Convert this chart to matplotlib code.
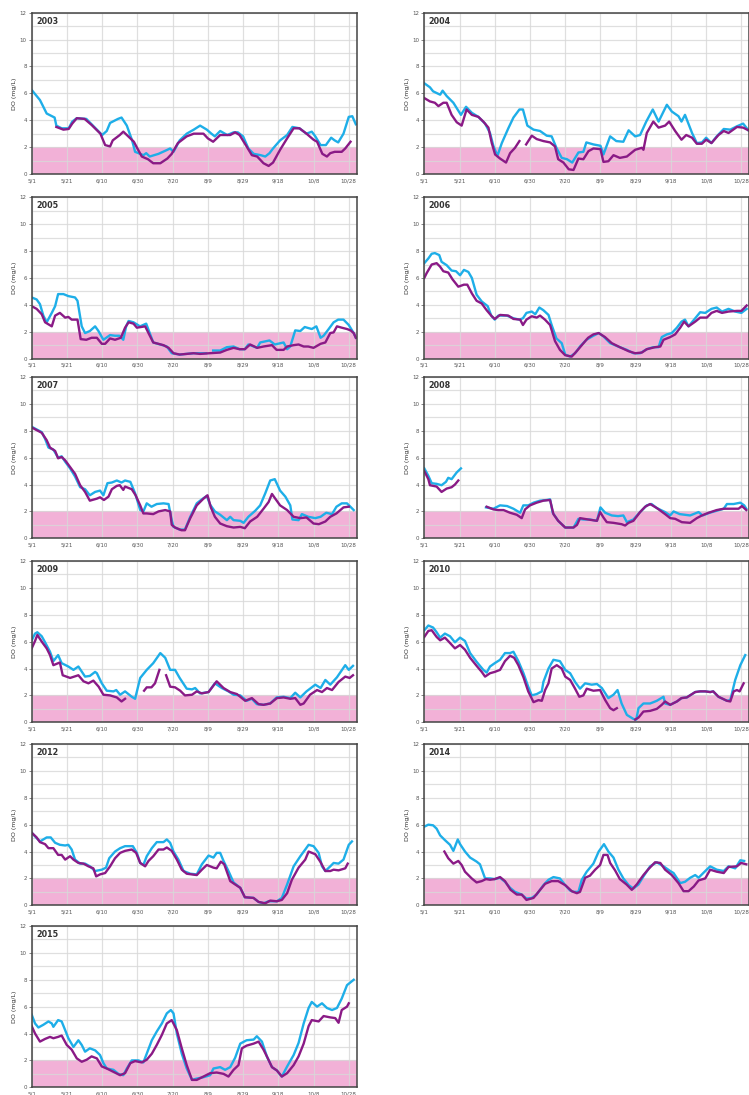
import numpy as np
import matplotlib.pyplot as plt

nan = np.nan

tick_days = [0, 20, 40, 60, 80, 100, 120, 140, 160, 180]
tick_labels = ['5/1', '5/21', '6/10', '6/30', '7/20', '8/9', '8/29', '9/18', '10/8', '10/28']
years = ['2003', '2004', '2005', '2006', '2007', '2008', '2009', '2010', '2012', '2014', '2015']

# days since 5/1 and dissolved oxygen (mg/L); "a" = cyan series, "b" = purple series
day_2003_a = [0, 4.7, 8.5, 13, 14, 17, 21, 23, 25.6, 31, 37, 40, 42.6, 44.5, 49, 51, 54, 57, 58.7, 63.4, 65, 67, 72, 77, 78.6, 80.5, 84, 88, 92, 95.6, 99.4, 102, 104, 107, 111, 114.6, 117, 120, 123, 126, 130, 132.6, 135, 137, 141, 145, 148, 152, 156, 159, 161, 164, 167, 170, 172, 174, 177, 180, 182, 184]
do_2003_a = [6.25, 5.5, 4.5, 4.2, 3.6, 3.4, 3.4, 3.9, 4.15, 4.1, 3.3, 2.9, 3.2, 3.8, 4.1, 4.2, 3.6, 2.5, 1.65, 1.4, 1.55, 1.3, 1.5, 1.8, 1.9, 1.65, 2.5, 3.0, 3.3, 3.6, 3.3, 3.0, 2.8, 3.2, 2.9, 3.1, 3.1, 2.8, 1.9, 1.5, 1.4, 1.3, 1.55, 1.9, 2.5, 2.9, 3.5, 3.4, 3.0, 3.15, 2.8, 2.15, 2.15, 2.7, 2.5, 2.35, 3.0, 4.25, 4.3, 3.7]
day_2003_b = [14, 18, 21, 23, 25.6, 30, 34, 39, 41.7, 44.5, 46, 50, 52, 54, 58, 60, 62.5, 66, 69, 73, 77, 79.5, 83, 88, 92, 97.5, 100, 103, 107, 112.7, 115.5, 118, 122, 125, 128, 131.6, 134.5, 137, 141, 145, 148.7, 152, 156, 160, 162, 165, 167.6, 169.5, 172, 176, 178, 181]
do_2003_b = [3.5, 3.3, 3.35, 3.75, 4.15, 4.1, 3.65, 3.0, 2.15, 2.05, 2.5, 2.9, 3.15, 2.9, 2.4, 1.9, 1.3, 1.1, 0.8, 0.8, 1.15, 1.5, 2.3, 2.8, 3.0, 3.0, 2.65, 2.4, 2.9, 2.9, 3.1, 2.9, 2.05, 1.4, 1.3, 0.8, 0.6, 0.85, 1.8, 2.65, 3.4, 3.4, 3.0, 2.55, 2.4, 1.5, 1.3, 1.55, 1.65, 1.65, 1.9, 2.4]

day_2004_a = [0, 3.2, 5, 9, 10.4, 12.7, 16.5, 20.8, 23.7, 27, 30.7, 34.5, 37.3, 39.2, 41.5, 44, 47.7, 50.6, 54, 56, 58.5, 62, 65.7, 69.5, 72.3, 75, 78, 81, 84, 87.5, 90.3, 92, 96, 100, 101.7, 105.5, 109, 113, 116, 119.7, 122.5, 126, 129.7, 133, 137.7, 140.5, 144.3, 146, 148, 152, 154.7, 157.6, 160, 163, 166, 170, 173.7, 177.5, 181, 184]
do_2004_a = [6.75, 6.45, 6.15, 5.9, 6.2, 5.8, 5.3, 4.4, 5.0, 4.55, 4.25, 3.75, 3.05, 2.1, 1.35, 2.3, 3.4, 4.2, 4.8, 4.8, 3.6, 3.3, 3.2, 2.85, 2.8, 1.95, 1.2, 1.1, 0.85, 1.6, 1.65, 2.35, 2.2, 2.1, 1.45, 2.8, 2.45, 2.4, 3.25, 2.8, 2.9, 3.9, 4.8, 3.9, 5.15, 4.65, 4.3, 3.9, 4.4, 3.05, 2.3, 2.35, 2.7, 2.3, 2.8, 3.35, 3.3, 3.55, 3.75, 3.25]
day_2004_b = [0, 3.2, 6, 8, 10.8, 12.7, 15.5, 18.4, 21.2, 24, 27, 30.7, 33.5, 36.4, 38.3, 40.2, 43, 46.4, 48.7, 51.5, 54, 56, 57.8, 61, 63.8, 67.6, 71.4, 74.2, 76, 79, 82, 84.7, 87.5, 90.3, 93.2, 96, 100, 101.7, 104.5, 107.4, 111, 115, 119.7, 123.5, 124.4, 126.3, 130, 133, 136.7, 139, 142.4, 146, 148.7, 152, 154.7, 157.6, 160, 163, 167, 170, 172.7, 177.5, 181, 184]
do_2004_b = [5.65, 5.4, 5.3, 5.05, 5.3, 5.3, 4.4, 3.85, 3.6, 4.8, 4.4, 4.25, 3.9, 3.45, 2.3, 1.45, 1.15, 0.85, 1.55, 1.95, 2.45, nan, 2.2, 2.85, 2.6, 2.45, 2.35, 2.05, 1.1, 0.85, 0.35, 0.3, 1.15, 1.1, 1.7, 1.9, 1.85, 0.9, 0.95, 1.4, 1.2, 1.3, 1.8, 1.95, 1.8, 3.05, 3.9, 3.45, 3.6, 3.9, 3.2, 2.55, 2.9, 2.7, 2.25, 2.25, 2.55, 2.3, 2.9, 3.2, 3.05, 3.5, 3.45, 3.25]

day_2005_a = [0, 2.8, 4.7, 6.6, 8.5, 11.4, 13.3, 15, 18, 20.8, 24.6, 26, 28.4, 30.3, 33, 36, 37.9, 40.7, 44.5, 47.3, 49.8, 52, 53.6, 55, 57.8, 61.5, 65, 69, 73, 76.7, 79.5, 84, 91.9, 99, 101, 103, 107, 110.8, 114.6, 118, 121, 123, 128, 129.7, 135, 138, 143, 145, 146.8, 149.6, 152.5, 155, 159, 161.6, 164, 165.7, 168.6, 171.4, 174, 177, 180, 182.8, 184]
do_2005_a = [4.55, 4.4, 4.05, 3.2, 2.7, 3.4, 3.9, 4.8, 4.8, 4.65, 4.55, 4.3, 2.4, 1.9, 2.05, 2.4, 2.05, 1.4, 1.75, 1.7, 1.7, 1.4, 2.4, 2.8, 2.7, 2.4, 2.6, 1.2, 1.05, 0.9, 0.4, 0.3, 0.4, 0.4, nan, 0.6, 0.6, 0.85, 0.9, 0.7, 0.7, 1.05, 0.8, 1.2, 1.35, 1.05, 1.2, 0.7, 0.9, 2.1, 2.05, 2.35, 2.2, 2.4, 1.55, 1.7, 2.2, 2.7, 2.9, 2.9, 2.5, 1.9, 1.55]
day_2005_b = [0, 2.8, 5.7, 7.6, 11.4, 13.3, 16, 19, 20.8, 22.7, 26, 27.8, 31, 34, 37, 39.8, 41.7, 44.5, 47.3, 50.6, 53, 55, 57.8, 59.7, 64.4, 66.3, 69, 74.8, 77.7, 80.5, 84, 91.9, 95.6, 101, 107, 110.8, 114.6, 118, 121, 124, 128, 131.6, 136.4, 139, 143, 145, 148.7, 151.5, 154.4, 157, 160, 164, 166.7, 169.5, 171.4, 173.3, 176, 179, 181, 182.8, 184]
do_2005_b = [3.9, 3.7, 3.3, 2.7, 2.4, 3.2, 3.4, 3.05, 3.1, 2.9, 2.9, 1.45, 1.4, 1.55, 1.55, 1.1, 1.1, 1.5, 1.4, 1.55, 2.3, 2.7, 2.6, 2.3, 2.4, 1.9, 1.2, 1.0, 0.8, 0.4, 0.3, 0.4, 0.35, 0.4, 0.45, 0.65, 0.8, 0.7, 0.7, 1.05, 0.8, 0.9, 1.0, 0.65, 0.65, 0.9, 1.0, 1.05, 0.9, 0.9, 0.8, 1.1, 1.2, 1.9, 1.95, 2.4, 2.3, 2.2, 2.1, 1.9, 1.55]

day_2006_a = [0, 2.3, 4.2, 6, 8.5, 9.8, 12.7, 15.5, 18, 20.3, 22.5, 25, 27, 29.7, 32.6, 36, 38, 40, 42, 46.8, 50.6, 54, 56, 58, 61, 63, 65.3, 67.6, 70.5, 72.3, 75, 78, 80, 82.8, 85.6, 88.4, 92, 96, 99, 101.7, 105.5, 110, 115, 118.7, 122.5, 126.3, 130, 133, 134.8, 137.7, 140.5, 143.4, 146, 148, 150, 153.8, 156.6, 159.5, 163, 166, 169, 172.7, 176.5, 180, 183]
do_2006_a = [7.1, 7.45, 7.8, 7.85, 7.7, 7.2, 6.95, 6.55, 6.5, 6.2, 6.6, 6.45, 6.0, 4.75, 4.25, 3.9, 3.2, 2.9, 3.2, 3.2, 3.0, 2.9, 3.0, 3.4, 3.5, 3.3, 3.8, 3.6, 3.25, 2.5, 1.5, 1.15, 0.3, 0.15, 0.4, 0.9, 1.4, 1.7, 1.9, 1.65, 1.15, 0.9, 0.65, 0.4, 0.4, 0.7, 0.85, 0.85, 1.6, 1.8, 1.9, 2.3, 2.75, 2.9, 2.4, 3.0, 3.45, 3.4, 3.7, 3.8, 3.5, 3.7, 3.5, 3.4, 3.7]
day_2006_b = [0, 1.3, 4.2, 7, 8.9, 10.8, 13.6, 16, 19.3, 22.5, 24.4, 27, 29.7, 32.6, 35.4, 38.3, 40, 43, 47.7, 50.6, 54.4, 56, 58, 61, 63.8, 65.7, 68.5, 71.4, 74.2, 77, 80, 83.7, 86.5, 89.4, 93, 96, 99, 102.6, 106.4, 111, 116, 119.7, 123.5, 126.3, 131, 134, 135.8, 139.6, 142.4, 145.3, 147.5, 150, 153.8, 156.6, 160.4, 163, 166, 169, 172.7, 177.5, 180, 183]
do_2006_b = [6.0, 6.35, 7.0, 7.1, 6.85, 6.5, 6.4, 5.9, 5.35, 5.5, 5.5, 4.85, 4.3, 4.1, 3.6, 3.15, 2.95, 3.25, 3.2, 2.95, 2.9, 2.5, 2.9, 3.15, 3.05, 3.2, 2.9, 2.5, 1.3, 0.65, 0.25, 0.15, 0.55, 1.0, 1.55, 1.8, 1.9, 1.6, 1.15, 0.85, 0.55, 0.4, 0.45, 0.7, 0.85, 0.9, 1.4, 1.6, 1.8, 2.3, 2.75, 2.4, 2.75, 3.05, 3.05, 3.4, 3.55, 3.4, 3.5, 3.55, 3.55, 3.95]

day_2007_a = [0, 2.8, 5.7, 7.6, 9.5, 12.3, 15, 17, 19, 21.8, 24.6, 27.5, 30.3, 33, 36, 38.8, 40.7, 43, 45.5, 48.3, 51, 53, 56, 58.7, 61.6, 63.4, 65.3, 68, 71, 74.8, 77.7, 79.5, 80.5, 84, 87, 90, 93.7, 96.6, 99.4, 101.3, 104, 107, 110.8, 112.7, 114.6, 118.4, 120.3, 123, 126.9, 129.7, 132.6, 135.4, 138, 141, 144, 146.8, 148, 151.5, 153.4, 157, 161, 164, 167.2, 170.5, 173, 176, 179, 182.8]
do_2007_a = [8.3, 8.1, 7.9, 7.4, 6.75, 6.6, 6.0, 6.1, 5.7, 5.2, 4.6, 3.8, 3.65, 3.2, 3.45, 3.55, 3.2, 4.1, 4.15, 4.3, 4.15, 4.3, 4.2, 3.35, 2.1, 2.0, 2.6, 2.35, 2.55, 2.6, 2.55, 1.35, 0.85, 0.65, 0.65, 1.6, 2.6, 2.9, 3.15, 2.5, 2.0, 1.75, 1.35, 1.6, 1.35, 1.3, 1.15, 1.6, 2.05, 2.45, 3.35, 4.3, 4.4, 3.55, 3.1, 2.45, 1.4, 1.35, 1.8, 1.6, 1.5, 1.6, 1.9, 1.8, 2.35, 2.6, 2.6, 2.1]
day_2007_b = [0, 2.8, 5.7, 8.5, 10.4, 13.3, 15, 17, 19, 21.8, 24.6, 27.5, 30.3, 33, 37, 38.8, 41, 43.6, 45.5, 48.3, 50, 52, 53, 56.8, 59, 61.6, 63.4, 65.3, 69, 72, 75.8, 78.6, 79.5, 81.4, 85, 87, 90, 93.7, 97.5, 99.8, 101.7, 104, 107, 110.8, 112.7, 114.6, 118.4, 121, 124, 128, 131.6, 134.5, 136.4, 138, 141, 145, 148.7, 152.5, 156, 160, 163, 166.7, 169.5, 173, 177, 180]
do_2007_b = [8.25, 8.05, 7.85, 7.3, 6.75, 6.5, 5.95, 6.05, 5.8, 5.3, 4.8, 3.95, 3.45, 2.8, 2.95, 3.05, 2.85, 3.1, 3.65, 3.9, 3.95, 3.6, 3.85, 3.65, 3.2, 2.45, 1.85, 1.85, 1.8, 2.0, 2.1, 2.0, 1.0, 0.8, 0.6, 0.6, 1.5, 2.45, 2.95, 3.2, 2.3, 1.6, 1.1, 0.9, 0.85, 0.8, 0.85, 0.75, 1.25, 1.6, 2.2, 2.7, 3.3, 3.0, 2.45, 2.1, 1.6, 1.5, 1.55, 1.1, 1.05, 1.25, 1.6, 1.85, 2.3, 2.35]

day_2008_a = [0, 2.3, 4.2, 7, 9.8, 12.3, 13.6, 15.5, 18.4, 20.8, 28, 35, 39.2, 43, 47, 50.6, 54.4, 56.2, 59, 62, 65.7, 69.5, 71.4, 72.9, 76, 80, 84.7, 87.5, 90.3, 94, 98, 100, 102.7, 106.4, 110, 113, 115, 118.7, 122.5, 126.3, 129, 132, 136.7, 139.6, 141.5, 145, 150.9, 155.7, 158, 162, 166, 170, 171.8, 175.6, 179.4, 181.6, 182.8]
do_2008_a = [5.2, 4.65, 4.1, 4.05, 3.95, 4.2, 4.5, 4.4, 4.9, 5.2, nan, 2.3, 2.2, 2.45, 2.4, 2.2, 1.9, 2.45, 2.45, 2.65, 2.8, 2.85, 2.9, 1.9, 1.3, 0.8, 0.8, 1.45, 1.4, 1.4, 1.3, 2.3, 1.9, 1.7, 1.65, 1.7, 1.2, 1.4, 1.95, 2.45, 2.55, 2.25, 1.95, 1.7, 2.0, 1.8, 1.7, 1.95, 1.7, 1.9, 2.05, 2.2, 2.55, 2.55, 2.65, 2.45, 2.2]
day_2008_b = [0, 2.3, 3.2, 7, 9.8, 12.7, 15.5, 17.4, 19.3, 28, 35.4, 39.2, 42, 45, 48.7, 52.5, 55.3, 57.2, 60, 63.8, 67.6, 71.4, 73.3, 76, 80, 84.7, 86.7, 88.4, 93, 98, 99.8, 101.7, 103.6, 107.4, 112, 114, 115.9, 118.7, 122.5, 125.4, 128.2, 132, 136.7, 139.6, 142.4, 146.2, 150.9, 154.7, 157.6, 161.4, 166, 170, 174.6, 178.4, 180.3, 182.8]
do_2008_b = [5.0, 4.4, 3.95, 3.85, 3.45, 3.7, 3.8, 4.0, 4.3, nan, 2.35, 2.15, 2.1, 2.1, 1.9, 1.75, 1.5, 2.15, 2.45, 2.65, 2.8, 2.85, 1.8, 1.3, 0.8, 0.8, 1.0, 1.5, 1.4, 1.3, 1.95, 1.55, 1.2, 1.15, 1.05, 0.95, 1.15, 1.3, 1.95, 2.35, 2.55, 2.25, 1.8, 1.5, 1.45, 1.2, 1.15, 1.5, 1.7, 1.9, 2.1, 2.2, 2.2, 2.2, 2.4, 2.1]

day_2009_a = [0, 1.9, 3.2, 5.7, 7.6, 10.4, 12.3, 15, 17, 20.8, 23.7, 26.5, 30.3, 33, 36, 37, 39.8, 42.6, 46.4, 48, 50.2, 53, 56.8, 58.7, 61.6, 65.3, 69, 73, 75.8, 78.6, 81.4, 84, 88, 91, 92.8, 95.6, 100.4, 104, 107.9, 111.7, 114.6, 118.4, 122, 125, 127.8, 131.6, 135.4, 139, 143, 146.8, 149.6, 152.5, 156, 161, 164, 166.7, 169.5, 173.3, 178, 180, 182.4]
do_2009_a = [6.1, 6.6, 6.7, 6.4, 5.95, 5.25, 4.55, 5.0, 4.4, 4.15, 3.9, 4.15, 3.4, 3.45, 3.75, 3.65, 2.9, 2.35, 2.3, 2.4, 2.05, 2.3, 1.9, 1.75, 3.3, 3.9, 4.4, 5.15, 4.8, 3.9, 3.9, 3.3, 2.5, 2.45, 2.55, 2.15, 2.25, 2.9, 2.55, 2.3, 2.05, 2.0, 1.6, 1.75, 1.35, 1.3, 1.4, 1.85, 1.9, 1.8, 2.2, 1.85, 2.3, 2.8, 2.55, 3.15, 2.8, 3.35, 4.25, 3.9, 4.2]
day_2009_b = [0, 1.9, 3.2, 5.7, 8.5, 10.4, 12.3, 16, 17.6, 21.8, 26.5, 29.4, 32.2, 35, 38, 40.7, 44.5, 48.3, 51, 53, 58, 63.8, 65.3, 68, 70, 72.5, 74, 76.3, 78.6, 81.4, 84.3, 87, 91, 93.7, 96.6, 100.4, 105, 108.9, 112.7, 116.5, 121.2, 125, 128.8, 131.6, 135.4, 139.2, 143, 146.8, 149.6, 152.5, 154.4, 158, 162, 164.8, 167.6, 170.5, 174.2, 178, 180.5, 182.4]
do_2009_b = [5.5, 6.05, 6.5, 6.0, 5.5, 5.0, 4.25, 4.45, 3.5, 3.3, 3.5, 3.05, 2.9, 3.1, 2.65, 2.05, 2.0, 1.85, 1.55, 1.75, nan, 2.35, 2.6, 2.6, 2.9, 3.9, nan, 3.5, 2.65, 2.6, 2.35, 2.0, 2.05, 2.3, 2.15, 2.25, 3.05, 2.55, 2.25, 2.1, 1.6, 1.8, 1.35, 1.3, 1.4, 1.8, 1.85, 1.75, 1.8, 1.3, 1.4, 2.05, 2.4, 2.25, 2.55, 2.4, 3.0, 3.4, 3.3, 3.5]

day_2010_a = [0, 2.3, 5, 7, 9, 11.7, 14.6, 17.4, 20.3, 23.1, 26, 29.7, 33.5, 35.4, 37.3, 40, 43, 45.8, 48.7, 50.6, 53.4, 56.3, 59, 61, 63.8, 66.7, 67.6, 70.5, 73.3, 77, 80, 82.8, 85.6, 88.4, 91.3, 95, 98, 100.8, 104.5, 107.4, 109.7, 112, 115, 118.7, 120.3, 121.6, 124.4, 128.2, 132, 135.8, 136.7, 139.6, 143.4, 146, 149, 153.8, 156.6, 159.5, 162.3, 164, 167, 171.8, 173.7, 176.5, 179.4, 182.2]
do_2010_a = [6.85, 7.2, 7.05, 6.7, 6.3, 6.6, 6.4, 5.95, 6.3, 6.05, 5.15, 4.5, 3.9, 3.7, 4.15, 4.4, 4.65, 5.15, 5.15, 5.25, 4.55, 3.65, 2.65, 2.0, 2.1, 2.3, 3.0, 4.0, 4.65, 4.55, 3.9, 3.65, 3.0, 2.5, 2.9, 2.8, 2.85, 2.55, 1.8, 2.05, 2.4, 1.4, 0.55, 0.25, 0.2, 1.05, 1.4, 1.4, 1.6, 1.9, 1.4, 1.3, 1.55, 1.8, 1.85, 2.25, 2.3, 2.3, 2.25, 2.3, 1.9, 1.6, 1.65, 3.15, 4.25, 5.0]
day_2010_b = [0, 2.3, 4.2, 7, 9, 11.7, 14.6, 17.4, 20.3, 23.1, 26, 29.7, 32.6, 34.5, 37.3, 40, 43, 45.8, 48.7, 51, 53.4, 56.3, 59, 62, 64.8, 66.7, 68.6, 70.5, 72.3, 75.2, 78, 80, 82.8, 85.6, 88, 90.3, 92.2, 96, 99.8, 102.7, 105.5, 107.4, 109.3, 115, 119.7, 121.6, 124.4, 128.2, 132, 134.8, 136.7, 139.6, 143.4, 146, 149, 153.8, 156.6, 159.5, 162.3, 164, 167, 171.8, 173.7, 175.6, 177.5, 179, 181.3]
do_2010_b = [6.35, 6.8, 6.85, 6.35, 6.1, 6.3, 5.9, 5.5, 5.75, 5.4, 4.8, 4.2, 3.75, 3.4, 3.65, 3.75, 3.9, 4.55, 4.95, 4.8, 4.25, 3.35, 2.3, 1.5, 1.65, 1.6, 2.4, 2.9, 4.0, 4.25, 4.0, 3.4, 3.15, 2.5, 1.9, 2.0, 2.5, 2.35, 2.4, 1.65, 1.05, 0.9, 1.05, nan, 0.2, 0.35, 0.8, 0.85, 1.0, 1.3, 1.55, 1.3, 1.55, 1.8, 1.85, 2.25, 2.3, 2.3, 2.25, 2.3, 1.9, 1.6, 1.55, 2.3, 2.4, 2.3, 2.9]

day_2012_a = [0, 2.8, 4.7, 6.6, 8.5, 10.8, 13.3, 16, 19, 20.8, 22.7, 24.6, 27.5, 30.3, 33, 36, 37.9, 39.8, 42.2, 44, 47.3, 50.2, 53, 57.4, 59.7, 61.6, 63.4, 65.3, 68.2, 71, 74.8, 76.7, 78.6, 80.5, 83.3, 86.2, 90, 93.7, 96.6, 100.4, 103.2, 105, 107, 108.9, 111.7, 114.6, 118.4, 121, 125.9, 128.8, 131.6, 134.5, 139.2, 142, 145, 148.7, 152.5, 155.3, 157.2, 160, 162.9, 164.8, 166.7, 169.5, 171.4, 174.2, 177, 180, 181.8]
do_2012_a = [5.4, 5.0, 4.75, 4.9, 5.05, 5.05, 4.65, 4.5, 4.45, 4.5, 4.15, 3.4, 3.1, 3.1, 2.9, 2.55, 2.6, 2.65, 2.8, 3.5, 4.0, 4.25, 4.4, 4.4, 3.9, 3.15, 3.0, 3.65, 4.25, 4.7, 4.7, 4.9, 4.65, 4.0, 3.4, 2.55, 2.35, 2.3, 3.05, 3.7, 3.55, 3.9, 3.9, 3.3, 2.55, 1.7, 1.3, 0.6, 0.55, 0.25, 0.15, 0.3, 0.3, 0.55, 1.55, 2.9, 3.65, 4.15, 4.5, 4.4, 3.9, 2.9, 2.55, 2.9, 3.15, 3.1, 3.4, 4.5, 4.75]
day_2012_b = [0, 2.8, 4.7, 7.6, 9.5, 12.3, 15, 17, 19, 21.8, 23.7, 26.5, 29.4, 32.2, 35, 36.6, 38.8, 41.7, 44.5, 47.3, 50.2, 53, 56.8, 59.3, 61.6, 64.4, 66.3, 69, 72, 74.8, 76.7, 79.5, 82.4, 85.2, 88, 93.7, 96.6, 99.4, 103.2, 105, 107.4, 109.3, 112.7, 115.5, 118.4, 121, 125.9, 128.8, 132.6, 135.4, 139.2, 142, 145, 147.7, 151.5, 155.3, 157.2, 161, 163.8, 166.7, 169.5, 171.4, 174.2, 178, 179.4]
do_2012_b = [5.4, 5.05, 4.7, 4.55, 4.25, 4.25, 3.75, 3.75, 3.4, 3.65, 3.4, 3.15, 3.1, 2.9, 2.75, 2.15, 2.3, 2.4, 2.9, 3.5, 3.9, 4.05, 4.15, 3.9, 3.15, 2.9, 3.3, 3.65, 4.15, 4.15, 4.3, 4.05, 3.4, 2.65, 2.35, 2.25, 2.65, 3.0, 2.8, 2.75, 3.25, 3.05, 1.8, 1.55, 1.3, 0.6, 0.55, 0.25, 0.15, 0.35, 0.3, 0.4, 0.9, 1.9, 2.8, 3.4, 4.0, 3.8, 3.25, 2.55, 2.55, 2.65, 2.6, 2.75, 3.1]

day_2014_a = [0, 2.3, 5, 7, 9, 11.7, 14.6, 16.5, 19, 20.3, 23.1, 26, 29.7, 31.6, 34.5, 37.3, 40, 43, 45.8, 48.7, 51.5, 55.3, 58, 61, 63.8, 67.6, 70.5, 73.3, 77, 80, 82.8, 84.7, 87.5, 89.4, 92.2, 96, 99, 102, 104.5, 107.4, 110.2, 113, 116, 118.7, 121.6, 124.4, 128.2, 132, 135.8, 139.6, 141.5, 145.3, 148, 151, 153.8, 155.7, 159.5, 162.3, 166, 170, 172.7, 176.5, 179.4, 181.6]
do_2014_a = [5.85, 6.0, 5.95, 5.7, 5.2, 4.85, 4.5, 4.05, 4.9, 4.55, 4.0, 3.55, 3.25, 3.05, 2.0, 2.0, 1.95, 2.05, 1.75, 1.3, 1.0, 0.8, 0.5, 0.55, 0.8, 1.5, 1.9, 2.1, 2.0, 1.5, 1.1, 1.0, 1.0, 1.9, 2.5, 3.1, 4.0, 4.55, 4.0, 3.55, 2.65, 2.0, 1.5, 1.25, 1.55, 2.15, 2.9, 3.2, 2.9, 2.55, 2.4, 1.65, 1.75, 2.05, 2.25, 2.05, 2.55, 2.9, 2.65, 2.55, 2.9, 2.75, 3.35, 3.3]
day_2014_b = [11.4, 13.6, 16.5, 19.3, 21.2, 23.1, 26.9, 29.7, 32.6, 35, 37.3, 40, 43, 45.8, 49, 52.5, 55.3, 58, 62, 64.8, 68.6, 72.3, 76, 80, 83.7, 86.6, 88.4, 91.3, 94, 97, 99.8, 101.7, 104, 105.5, 108.3, 111, 114.8, 117.8, 120.6, 124.4, 127.3, 131, 134, 136.7, 140.5, 144.3, 147.2, 150, 153, 155.7, 159.5, 162.3, 166, 170, 172.7, 177.5, 179.8, 182.8]
do_2014_b = [4.0, 3.5, 3.1, 3.3, 3.0, 2.5, 2.0, 1.7, 1.8, 1.95, 1.9, 1.95, 2.1, 1.8, 1.15, 0.8, 0.8, 0.4, 0.55, 1.0, 1.6, 1.8, 1.8, 1.5, 1.05, 0.9, 1.0, 2.05, 2.2, 2.65, 3.0, 3.75, 3.75, 3.15, 2.6, 1.95, 1.55, 1.15, 1.55, 2.25, 2.7, 3.2, 3.15, 2.65, 2.25, 1.65, 1.05, 1.05, 1.4, 1.85, 2.0, 2.65, 2.5, 2.4, 2.85, 2.9, 3.15, 3.05]

day_2015_a = [0, 1.9, 3.8, 6.6, 9.5, 11.4, 12.3, 15, 17, 19, 20.8, 23.7, 26.5, 28.4, 30.3, 33, 36, 38.8, 40.7, 42.6, 46.4, 49.2, 52, 54, 56.8, 60.6, 63.4, 65.3, 68.2, 71, 73.9, 76.7, 79, 80.5, 82.4, 85.2, 88, 91, 93.7, 97.5, 101.3, 103.2, 107, 109.8, 112.7, 115.5, 118.4, 122, 126, 127.8, 130.7, 133.5, 136.4, 139.2, 142, 145, 148.7, 151.5, 154.4, 157.2, 159, 162, 164.8, 167.6, 170.5, 173.3, 176, 179, 182.8]
do_2015_a = [5.4, 4.75, 4.45, 4.65, 4.9, 4.75, 4.5, 5.0, 4.9, 4.25, 3.65, 3.0, 3.5, 3.15, 2.65, 2.9, 2.75, 2.4, 1.8, 1.4, 1.3, 1.0, 0.9, 1.4, 2.0, 2.0, 1.85, 2.5, 3.5, 4.15, 4.75, 5.5, 5.75, 5.5, 4.0, 2.5, 1.4, 0.55, 0.65, 0.75, 0.9, 1.4, 1.5, 1.3, 1.5, 2.2, 3.25, 3.5, 3.55, 3.8, 3.4, 2.3, 1.5, 1.25, 0.8, 1.55, 2.4, 3.3, 4.75, 5.9, 6.35, 6.0, 6.25, 5.9, 5.75, 5.9, 6.6, 7.6, 8.0]
day_2015_b = [0, 1.9, 4.7, 7.6, 10.4, 12.3, 15, 17, 19.9, 22.7, 25.6, 28.4, 31.2, 34, 37, 39.8, 42.6, 46.4, 50.2, 53, 56, 58.7, 62.5, 65.3, 68.2, 71, 73.9, 76.7, 79.5, 82.4, 85.2, 88, 91, 93.7, 97.5, 101.3, 105, 108.9, 111.7, 114.6, 117.4, 119.3, 122, 126, 128.8, 131.6, 133.5, 136.4, 139.2, 142, 145, 148.7, 151.5, 154.4, 157.2, 159, 162.9, 165.7, 169.5, 172.3, 174.2, 176, 179, 180]
do_2015_b = [4.55, 4.0, 3.4, 3.6, 3.75, 3.65, 3.75, 3.85, 3.15, 2.8, 2.15, 1.9, 2.05, 2.3, 2.15, 1.55, 1.4, 1.15, 0.9, 1.05, 1.8, 1.95, 1.85, 2.05, 2.5, 3.15, 3.9, 4.75, 5.0, 4.25, 2.9, 1.65, 0.55, 0.55, 0.8, 1.05, 1.1, 1.0, 0.8, 1.3, 1.65, 2.9, 3.1, 3.25, 3.4, 2.8, 2.3, 1.5, 1.25, 0.8, 1.05, 1.65, 2.3, 3.25, 4.55, 5.0, 4.9, 5.3, 5.2, 5.15, 4.8, 5.75, 6.0, 6.25]

series = {
    '2003': (day_2003_a, do_2003_a, day_2003_b, do_2003_b),
    '2004': (day_2004_a, do_2004_a, day_2004_b, do_2004_b),
    '2005': (day_2005_a, do_2005_a, day_2005_b, do_2005_b),
    '2006': (day_2006_a, do_2006_a, day_2006_b, do_2006_b),
    '2007': (day_2007_a, do_2007_a, day_2007_b, do_2007_b),
    '2008': (day_2008_a, do_2008_a, day_2008_b, do_2008_b),
    '2009': (day_2009_a, do_2009_a, day_2009_b, do_2009_b),
    '2010': (day_2010_a, do_2010_a, day_2010_b, do_2010_b),
    '2012': (day_2012_a, do_2012_a, day_2012_b, do_2012_b),
    '2014': (day_2014_a, do_2014_a, day_2014_b, do_2014_b),
    '2015': (day_2015_a, do_2015_a, day_2015_b, do_2015_b),
}

W, H = 749, 1095
fig = plt.figure(figsize=(W / 100, H / 100), dpi=100)

col_left = [31.7, 424.3]
row_top = [12.7, 197.3, 377.0, 561.0, 744.0, 926.0]
ax_w, ax_h = 325.0, 161.3

for i, year in enumerate(years):
    r, c = divmod(i, 2)
    x0 = col_left[c] / W
    y0 = 1 - (row_top[r] + ax_h) / H
    ax = fig.add_axes([x0, y0, ax_w / W, ax_h / H])

    ax.axhspan(0, 2, color='#f2b1d7', zorder=0.5, lw=0)
    ax.set_xlim(0, 184.5)
    ax.set_ylim(0, 12)
    ax.set_xticks(tick_days)
    ax.set_xticklabels(tick_labels)
    ax.set_yticks(range(0, 13, 2))
    ax.set_yticks(range(0, 13), minor=True)
    ax.grid(which='both', axis='y', color='#d8d8d8', lw=0.9, alpha=0.8, zorder=1)
    ax.grid(which='major', axis='x', color='#d8d8d8', lw=0.9, alpha=0.8, zorder=1)
    ax.set_axisbelow(False)
    ax.tick_params(axis='both', which='major', labelsize=4, colors='#555555',
                   length=2, width=0.5, pad=1.5)
    ax.tick_params(axis='y', which='minor', length=0)
    ax.tick_params(axis='x', length=0, pad=3)
    for s in ax.spines.values():
        s.set_color('#444444')
        s.set_linewidth(1.1)
        s.set_zorder(5)

    da, va, db, vb = series[year]
    ax.plot(da, va, color='#1eaee8', lw=1.7, zorder=3, solid_joinstyle='round')
    ax.plot(db, vb, color='#8a1a86', lw=1.7, zorder=4, solid_joinstyle='round')

    ax.set_ylabel('DO (mg/L)', fontsize=4.5, color='#333333', labelpad=2)
    ax.text(0.013, 0.947, year, transform=ax.transAxes, fontsize=5.8,
            fontweight='bold', color='#333333', va='center', ha='left')

fig.savefig('out.png', dpi=100)
